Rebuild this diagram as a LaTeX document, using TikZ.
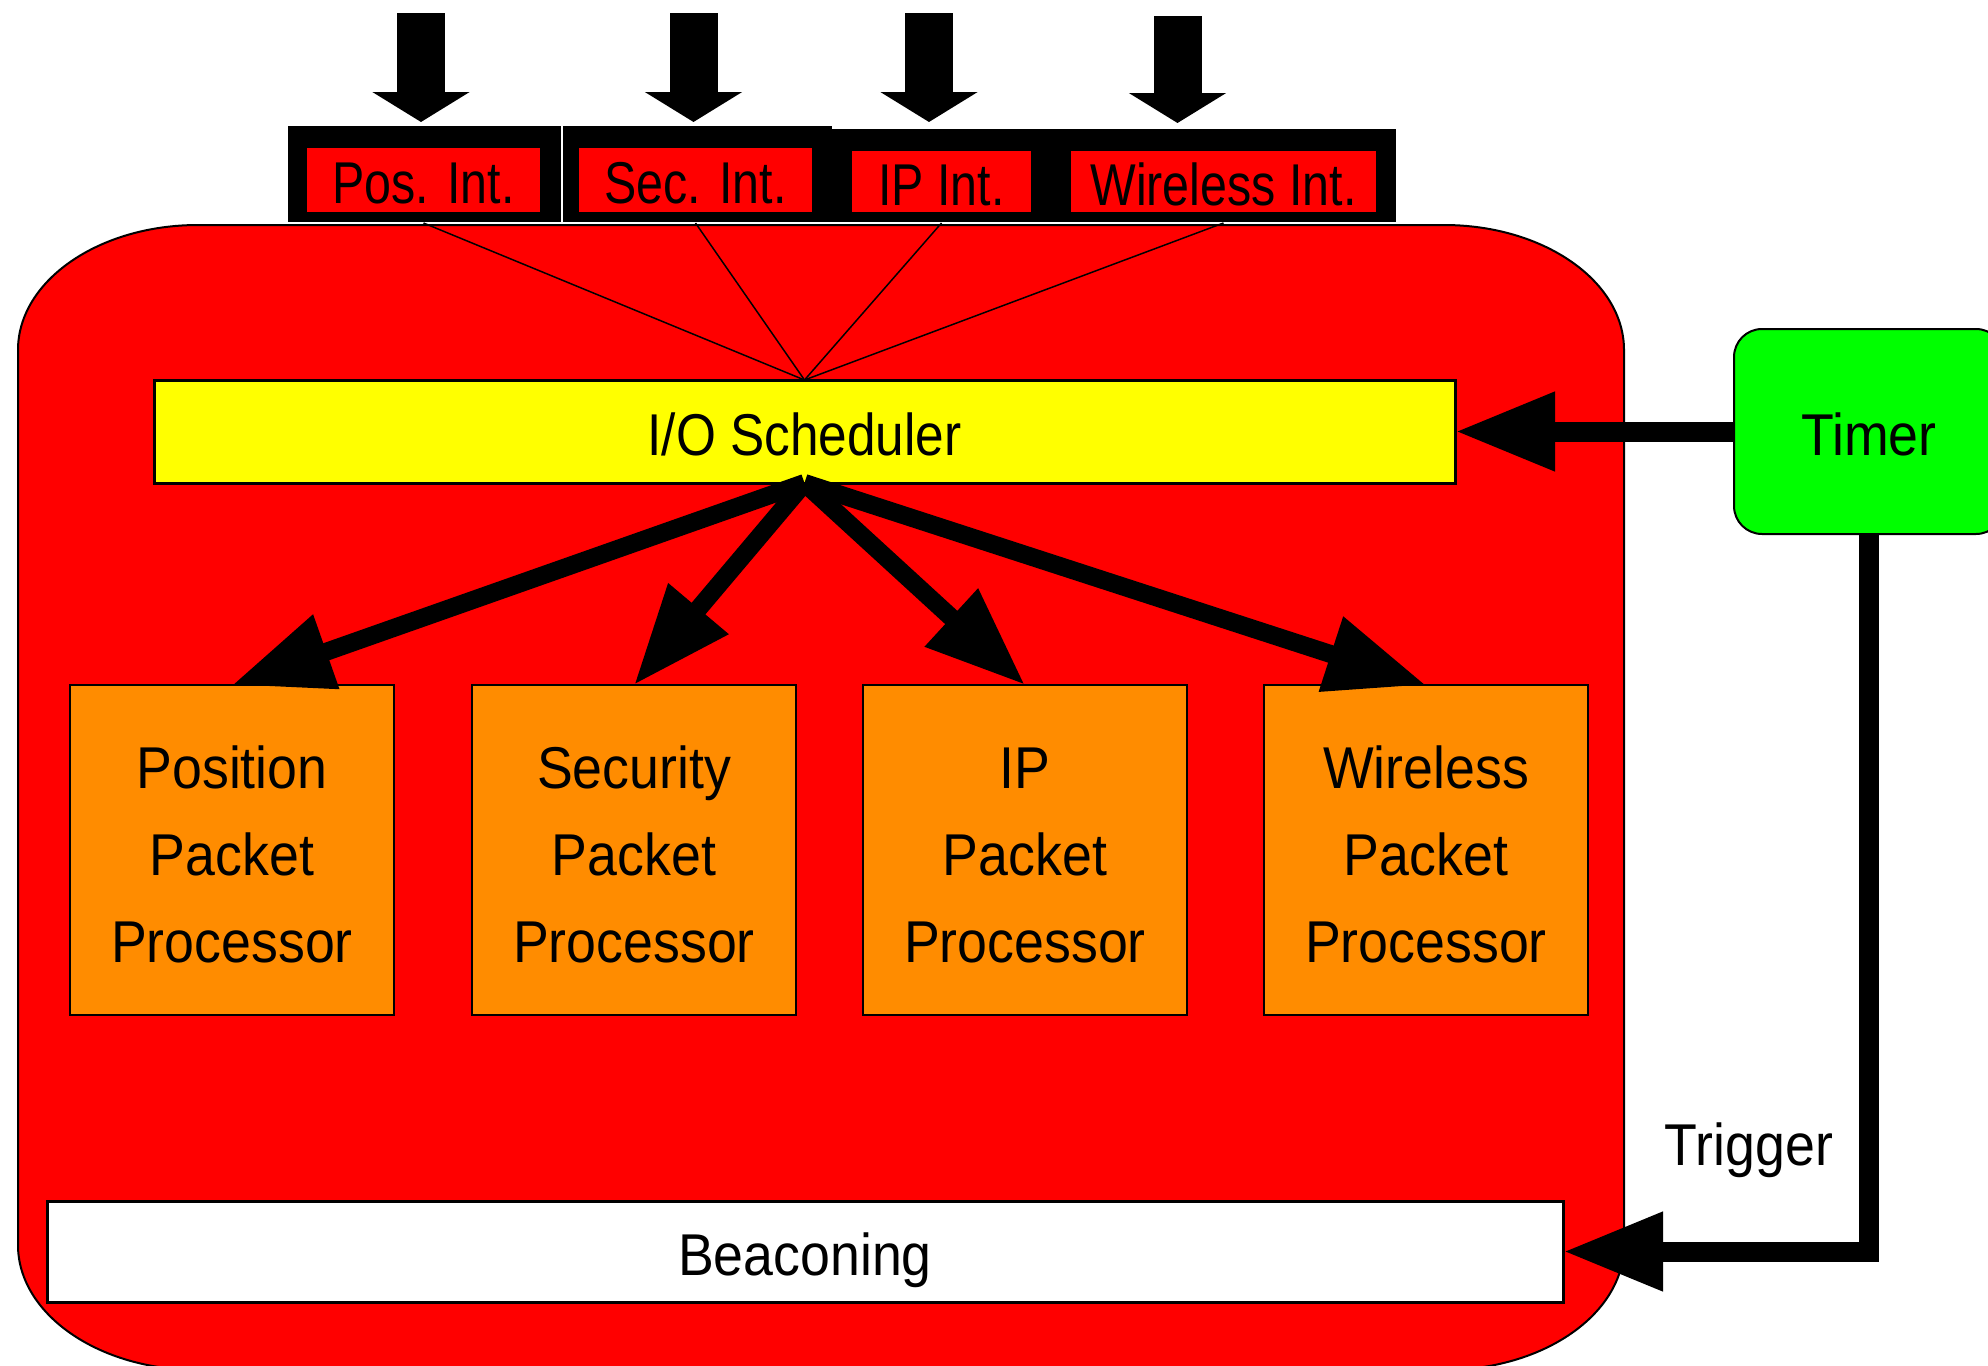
\documentclass[tikz,border=0pt]{standalone}
\usepackage{fontspec}
\setmainfont{Liberation Sans}[FakeStretch=0.91]
\newfontfamily\narrowfont{Liberation Sans}[FakeStretch=0.87]
\newfontfamily\ifacefont{Liberation Sans}[FakeStretch=0.82]
\usetikzlibrary{arrows.meta}
\definecolor{bodyred}{RGB}{255,0,0}
\definecolor{procorange}{RGB}{255,140,0}
\definecolor{schedyellow}{RGB}{255,255,0}
\definecolor{timergreen}{RGB}{0,255,0}
\begin{document}
\begin{tikzpicture}[x=1pt,y=-1pt,
  every node/.style={font=\fontsize{59}{87}\selectfont, inner sep=0pt, outer sep=0pt},
  lbl/.style={text height=53pt, text depth=6pt},
  iface/.style={lbl, fill=bodyred, font=\ifacefont\fontsize{59}{87}\selectfont},
  proc/.style={draw=black, line width=2.5pt, fill=procorange, minimum width=324pt, minimum height=330pt, align=center},
  fatarrow/.style={line width=18pt, -{Triangle[length=100pt,width=74pt]}},
  timerarrow/.style={line width=20pt, -{Triangle[length=100pt,width=74pt]}},
  blockarrow/.style={line width=48pt, -{Triangle[length=30pt,width=96pt]}},
  thinline/.style={line width=1.5pt}
]
\useasboundingbox (0,0) rectangle (1988,1365);
\clip (0,0) rectangle (1988,1365);
\fill[white] (0,0) rectangle (1988,1365);

% main red body with elliptical corners
\filldraw[fill=bodyred, draw=black, line width=2pt]
  (18,350) -- (18,1245) arc[start angle=180, end angle=90, x radius=180, y radius=125]
  -- (1444,1370) arc[start angle=90, end angle=0, x radius=180, y radius=125]
  -- (1624,350) arc[start angle=0, end angle=-90, x radius=180, y radius=125]
  -- (198,225) arc[start angle=-90, end angle=-180, x radius=180, y radius=125] -- cycle;

% black frames of the interfaces
\fill[black] (288,126) rectangle (561,222);
\fill[black] (563,126) rectangle (832,222);
\fill[black] (832,129) rectangle (1396,222);

% interfaces
\node[iface, minimum width=233pt, minimum height=64pt] (pos) at (423.5,180) {Pos. Int.};
\node[iface, minimum width=233pt, minimum height=64pt] (sec) at (695.5,180) {Sec. Int.};
\node[iface, minimum width=179pt, minimum height=61pt] (ip) at (941.5,181.5) {IP Int.};
\node[iface, minimum width=305pt, minimum height=61pt] (wl) at (1223.5,181.5) {Wireless Int.};

% incoming arrows
\coordinate (a1s) at (421,13);  \coordinate (a1e) at (421,122);
\coordinate (a2s) at (693.5,13); \coordinate (a2e) at (693.5,122);
\coordinate (a3s) at (929,13);  \coordinate (a3e) at (929,122);
\coordinate (a4s) at (1177.5,16); \coordinate (a4e) at (1177.5,123);
\draw[blockarrow] (a1s) -- (a1e);
\draw[blockarrow] (a2s) -- (a2e);
\draw[blockarrow] (a3s) -- (a3e);
\draw[blockarrow] (a4s) -- (a4e);

% scheduler
\node[lbl, draw=black, line width=3pt, fill=schedyellow, minimum width=1301pt, minimum height=103pt,
      font=\narrowfont\fontsize{59}{87}\selectfont] (sched) at (804.5,431.5) {I/O Scheduler};

\draw[thinline] ([yshift=-11pt]pos.south) -- (sched.north);
\draw[thinline] ([yshift=-11pt]sec.south) -- (sched.north);
\draw[thinline] ([yshift=-11pt]ip.south) -- (sched.north);
\draw[thinline] ([yshift=-11pt]wl.south) -- (sched.north);

% processors
\node[proc] (p1) at (232,850) {\rule{0pt}{52pt}Position\\Packet\\Processor};
\node[proc] (p2) at (634,850) {\rule{0pt}{52pt}Security\\Packet\\Processor};
\node[proc] (p3) at (1025,850) {\rule{0pt}{52pt}IP\\Packet\\Processor};
\node[proc] (p4) at (1426,850) {\rule{0pt}{52pt}Wireless\\Packet\\Processor};

\draw[fatarrow] (sched.south) -- (p1.north);
\draw[fatarrow] (sched.south) -- (p2.north);
\draw[fatarrow] (sched.south) -- (p3.north);
\draw[fatarrow] (sched.south) -- (p4.north);

% beaconing
\node[lbl, draw=black, line width=3pt, fill=white, minimum width=1516pt, minimum height=101pt] (beacon) at (805,1251.5) {Beaconing};

% timer
\node[lbl, draw=black, line width=2pt, fill=timergreen, rounded corners=28pt, minimum width=270pt, minimum height=205pt] (timer) at (1869,431.5) {Timer};

\draw[timerarrow] (timer.west) -- (sched.east);
\draw[timerarrow] (timer.south) |- (beacon.east);

\node[lbl] (trig) at (1749,1141.5) {Trigger};
\end{tikzpicture}
\end{document}
